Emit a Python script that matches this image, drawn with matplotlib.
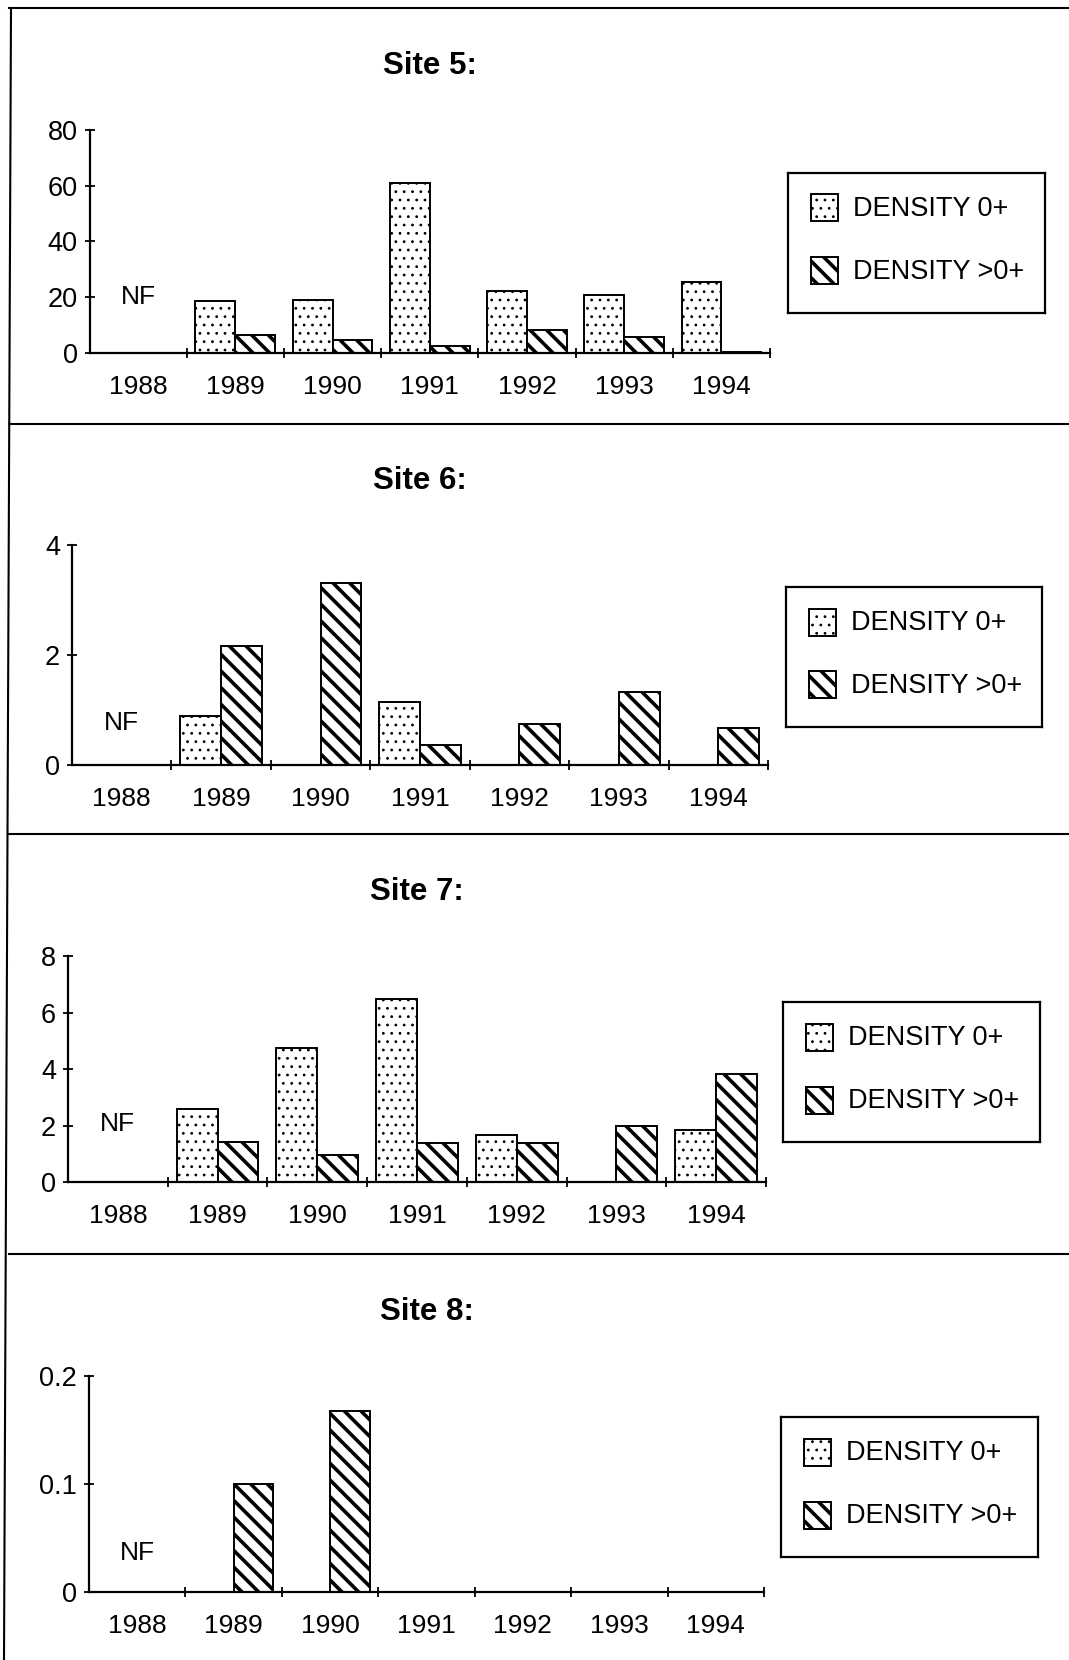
# Fish density per site, 1988-1994: four stacked panels (Site 5 to Site 8),
# two bars per year (0+ dotted, >0+ striped), each panel with its own legend box.

import numpy as np
import matplotlib
matplotlib.use("Agg")
import matplotlib.pyplot as plt
from matplotlib.lines import Line2D
from matplotlib.patches import Rectangle

plt.rcParams['font.family'] = ['Liberation Sans', 'DejaVu Sans']

W, H = 1069, 1660

YEARS = ['1988', '1989', '1990', '1991', '1992', '1993', '1994']
LABEL_0 = 'DENSITY 0+'
LABEL_GT0 = 'DENSITY >0+'

# 1988 = not fished (NF) -> no bars
SITE5_D0 = [np.nan, 18.5, 19.0, 60.8, 22.1, 20.9, 25.5]
SITE5_GT0 = [np.nan, 6.3, 4.5, 2.3, 8.2, 5.8, 0.4]

SITE6_D0 = [np.nan, 0.89, 0, 1.15, 0, 0, 0]
SITE6_GT0 = [np.nan, 2.17, 3.31, 0.37, 0.74, 1.33, 0.68]

SITE7_D0 = [np.nan, 2.6, 4.73, 6.48, 1.66, 0, 1.85]
SITE7_GT0 = [np.nan, 1.41, 0.97, 1.38, 1.38, 1.98, 3.84]

SITE8_D0 = [np.nan, 0, 0, 0, 0, 0, 0]
SITE8_GT0 = [np.nan, 0.10, 0.168, 0, 0, 0, 0]

SITE5_YTICKS = [0, 20, 40, 60, 80]
SITE6_YTICKS = [0, 2, 4]
SITE7_YTICKS = [0, 2, 4, 6, 8]
SITE8_YTICKS = [0, 0.1, 0.2]
SITE8_YLABELS = ['0', '0.1', '0.2']

DOTS = '..'
STRIPES = '\\\\'
DOT_LW = 0.8
STRIPE_LW = 2.6
BAR_W = 0.41


def px_rect(left, top, right, bottom):
    return [left / W, 1 - bottom / H, (right - left) / W, (bottom - top) / H]


def hatched(patch, lw):
    if hasattr(patch, 'set_hatch_linewidth'):
        patch.set_hatch_linewidth(lw)


def draw_legend(fig, box):
    left, top, right, bottom = box
    lax = fig.add_axes(px_rect(left, top, right, bottom))
    lax.set_xlim(0, right - left)
    lax.set_ylim(bottom - top, 0)
    lax.set_xticks([])
    lax.set_yticks([])
    for s in lax.spines.values():
        s.set_linewidth(1.6)
    for yc, hatch, lw, label in [(35, DOTS, DOT_LW, LABEL_0), (98, STRIPES, STRIPE_LW, LABEL_GT0)]:
        with plt.rc_context({'hatch.linewidth': lw}):
            r = Rectangle((23, yc - 13.5), 27, 27, facecolor='white', edgecolor='black',
                          linewidth=1.4, hatch=hatch)
        hatched(r, lw)
        lax.add_patch(r)
        lax.text(65, yc + 1, label, fontsize=19.5, va='center', ha='left')


def draw_site(fig, rect, legend_box, title, d0, gt0, ymax, yticks, ylabels, nf_y):
    left, top, right, bottom = rect
    ax = fig.add_axes(px_rect(left, top, right, bottom))
    x = np.arange(len(YEARS))

    with plt.rc_context({'hatch.linewidth': DOT_LW}):
        bars0 = ax.bar(x - BAR_W / 2, d0, BAR_W, facecolor='white', edgecolor='black',
                       linewidth=1.4, hatch=DOTS, zorder=2)
    with plt.rc_context({'hatch.linewidth': STRIPE_LW}):
        bars1 = ax.bar(x + BAR_W / 2, gt0, BAR_W, facecolor='white', edgecolor='black',
                       linewidth=1.4, hatch=STRIPES, zorder=2)
    for b in bars0:
        hatched(b, DOT_LW)
    for b in bars1:
        hatched(b, STRIPE_LW)

    ax.set_xlim(-0.5, len(YEARS) - 0.5)
    ax.set_ylim(0, ymax)
    for side in ['top', 'right']:
        ax.spines[side].set_visible(False)
    for side in ['left', 'bottom']:
        ax.spines[side].set_linewidth(1.6)
        ax.spines[side].set_zorder(3)

    ax.set_xticks(x + 0.5)
    ax.set_xticklabels([])
    ax.set_xticks(x, minor=True)
    ax.set_xticklabels(YEARS, minor=True)
    ax.tick_params(axis='x', which='major', direction='inout', length=7, width=1.3)
    ax.tick_params(axis='x', which='minor', length=0, pad=16, labelsize=19)

    ax.set_yticks(yticks)
    ax.set_yticklabels(ylabels if ylabels else [str(t) for t in yticks])
    ax.tick_params(axis='y', direction='inout', length=7, width=1.3, pad=5, labelsize=19.5)

    ax.text(0, nf_y, 'NF', fontsize=19, ha='center', va='center')

    fig.text((left + right) / 2 / W, 1 - (top - 64) / H, title, fontsize=22.5,
             fontweight='bold', ha='center', va='center')

    draw_legend(fig, legend_box)
    return ax


fig = plt.figure(figsize=(W / 100, H / 100), dpi=100)

draw_site(fig, (89.5, 130, 770, 352.7), (788, 173, 1045, 313), 'Site 5:',
          SITE5_D0, SITE5_GT0, 80, SITE5_YTICKS, None, 20)
draw_site(fig, (72, 545, 768, 765), (786, 587, 1042, 727), 'Site 6:',
          SITE6_D0, SITE6_GT0, 4, SITE6_YTICKS, None, 0.76)
draw_site(fig, (68, 956, 766, 1182), (783, 1002, 1040, 1142), 'Site 7:',
          SITE7_D0, SITE7_GT0, 8, SITE7_YTICKS, None, 2.05)
draw_site(fig, (89, 1376, 764, 1592), (781, 1417, 1038, 1557), 'Site 8:',
          SITE8_D0, SITE8_GT0, 0.2, SITE8_YTICKS, SITE8_YLABELS, 0.036)

# page frame: separators between panels and the left border
for yy in [8, 424, 834, 1254]:
    fig.add_artist(Line2D([9 / W, 1], [1 - yy / H, 1 - yy / H], color='black',
                          linewidth=1.5, transform=fig.transFigure))
fig.add_artist(Line2D([11 / W, 4 / W], [1 - 8 / H, 0], color='black',
                      linewidth=1.5, transform=fig.transFigure))

fig.savefig('out.png', dpi=100)
